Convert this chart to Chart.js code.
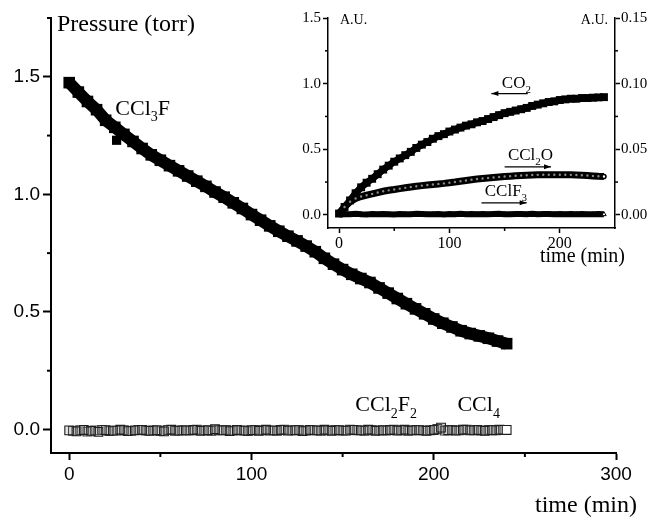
<!DOCTYPE html>
<html>
<head>
<meta charset="utf-8">
<script src="https://cdn.jsdelivr.net/npm/chart.js@4/dist/chart.umd.min.js"></script>
<style>
  html, body { margin: 0; padding: 0; background: #fff; }
  #wrap { position: relative; width: 654px; height: 517px; }
  #wrap canvas { position: absolute; left: 0; top: 0; }
</style>
</head>
<body>
<div id="wrap">
  <canvas id="main" width="654" height="517"></canvas>
  <canvas id="inset" width="654" height="517"></canvas>
</div>
<script>
// ---- sampling times (min) ----
const minutes = [0,5,10,15,20,25,30,35,40,45,50,55,60,65,70,75,80,85,90,95,
  100,105,110,115,120,125,130,135,140,145,150,155,160,165,170,175,180,185,190,195,
  200,205,210,215,220,225,230,235,240];

// ---- main panel: pressure (torr) ----
const ccl3f = [1.475,1.435,1.395,1.360,1.315,1.285,1.255,1.225,1.195,1.168,
  1.145,1.122,1.100,1.078,1.056,1.034,1.010,0.988,0.964,0.940,
  0.914,0.890,0.866,0.843,0.822,0.802,0.780,0.756,0.728,0.703,
  0.680,0.660,0.642,0.625,0.602,0.580,0.557,0.535,0.513,0.492,
  0.470,0.452,0.436,0.420,0.408,0.398,0.388,0.376,0.365];
// stray reading below the trace
const ccl3fStrayTime = [26];
const ccl3fStray = [1.23];

const ccl2f2Times = [0,4,8,12,16,20,24,28,32,36,40,44,48,52,56,60,64,68,72,76,
  80,84,88,92,96,100,104,108,112,116,120,124,128,132,136,140,144,148,152,156,
  160,164,168,172,176,180,184,188,192,196,200,204,208,212,216,220,224,228,232,236,240];
const ccl2f2 = [-0.004,-0.008,-0.002,-0.006,-0.010,-0.003,-0.005,-0.001,-0.007,-0.004,
  -0.002,-0.006,-0.003,-0.008,-0.001,-0.005,-0.004,-0.002,-0.006,-0.003,
  0.001,-0.004,-0.007,-0.002,-0.005,-0.003,-0.006,-0.001,-0.004,-0.002,
  -0.005,-0.003,-0.007,-0.002,-0.004,-0.001,-0.006,-0.003,-0.005,-0.002,
  -0.004,-0.001,-0.006,-0.003,-0.002,-0.005,-0.001,-0.004,-0.003,-0.006,
  -0.002,0.008,-0.003,-0.005,-0.001,-0.004,-0.002,-0.006,-0.003,-0.001,-0.002];

const ccl4Times = [2,6,10,14,18,22,26,30,34,38,42,46,50,54,58,62,66,70,74,78,
  82,86,90,94,98,102,106,110,114,118,122,126,130,134,138,142,146,150,154,158,
  162,166,170,174,178,182,186,190,194,198,202,206,210,214,218,222,226,230,234,238];
const ccl4 = [-0.006,-0.003,-0.009,-0.004,-0.002,-0.007,-0.005,-0.003,-0.006,-0.002,
  -0.005,-0.004,-0.007,-0.002,-0.006,-0.003,-0.005,-0.001,-0.004,-0.006,
  -0.003,-0.002,-0.005,-0.004,-0.007,-0.002,-0.003,-0.005,-0.006,-0.001,
  -0.004,-0.002,-0.005,-0.003,-0.006,-0.004,-0.002,-0.005,-0.001,-0.003,
  -0.006,-0.002,-0.004,-0.005,-0.001,-0.003,-0.006,-0.002,-0.004,-0.003,
  0.002,-0.005,-0.002,-0.004,-0.001,-0.003,-0.005,-0.002,-0.004,-0.002];

// ---- inset: products (A.U.) ----
const co2 = [0.010,0.060,0.110,0.165,0.210,0.245,0.275,0.310,0.345,0.375,
  0.405,0.430,0.455,0.480,0.510,0.535,0.555,0.580,0.600,0.615,
  0.635,0.650,0.665,0.680,0.690,0.705,0.715,0.730,0.745,0.760,
  0.775,0.785,0.795,0.805,0.815,0.830,0.840,0.850,0.860,0.865,
  0.875,0.880,0.885,0.885,0.890,0.890,0.893,0.895,0.897];
const ccl2o = [0.0010,0.0060,0.0100,0.0125,0.0140,0.0150,0.0160,0.0170,0.0180,0.0187,
  0.0193,0.0200,0.0206,0.0212,0.0218,0.0223,0.0228,0.0232,0.0236,0.0240,
  0.0245,0.0250,0.0256,0.0262,0.0268,0.0273,0.0277,0.0281,0.0285,0.0289,
  0.0292,0.0295,0.0298,0.0300,0.0302,0.0304,0.0305,0.0306,0.0306,0.0306,
  0.0306,0.0306,0.0305,0.0304,0.0302,0.0300,0.0297,0.0294,0.0292];
const cclf3 = [0.0002,0.0006,0.0004,0.0008,0.0005,0.0003,0.0007,0.0004,0.0006,0.0005,
  0.0003,0.0007,0.0005,0.0004,0.0008,0.0006,0.0004,0.0005,0.0007,0.0003,
  0.0006,0.0005,0.0008,0.0004,0.0006,0.0005,0.0007,0.0004,0.0006,0.0008,
  0.0005,0.0004,0.0007,0.0006,0.0005,0.0008,0.0004,0.0006,0.0007,0.0005,
  0.0006,0.0004,0.0007,0.0005,0.0006,0.0004,0.0005,0.0006,0.0004];

// ---- ticks ----
const mainXTicks = [0, 100, 200, 300];
const mainXMinor = [50, 150, 250];
const mainYTicks = [0, 0.5, 1.0, 1.5];
const mainYMinor = [0.25, 0.75, 1.25, 1.75];
const insetXTicks = [0, 100, 200];
const insetXMinor = [50, 150];
const insetLeftTicks = [0, 0.5, 1.0, 1.5];
const insetLeftMinor = [0.25, 0.75, 1.25];
const insetRightTicks = [0, 0.05, 0.10, 0.15];
const insetRightMinor = [0.025, 0.075, 0.125];

const SERIF = '"Liberation Serif", "Times New Roman", Times, serif';
const SANS = '"Liberation Sans", Arial, Helvetica, sans-serif';

const pts = (xs, ys) => xs.map((x, i) => ({ x: x, y: ys[i] }));
// the final reading of a trace is drawn as an open marker
const lastOpen = (n, open, solid) => ctx => (ctx.dataIndex === n - 1 ? open : solid);

// Decorations: minor ticks, free text, chemical labels with subscripts, arrows
const decor = {
  id: 'decor',
  afterDraw(chart, args, opts) {
    const ctx = chart.ctx;
    const ca = chart.chartArea;
    ctx.save();
    ctx.strokeStyle = '#000';
    (opts.minor || []).forEach(m => {
      const sc = chart.scales[m.scale];
      ctx.lineWidth = m.width;
      m.values.forEach(v => {
        const p = sc.getPixelForValue(v);
        ctx.beginPath();
        if (sc.isHorizontal()) {
          ctx.moveTo(p, ca.bottom); ctx.lineTo(p, ca.bottom + m.len);
        } else if (sc.position === 'left') {
          ctx.moveTo(ca.left, p); ctx.lineTo(ca.left - m.len, p);
        } else {
          ctx.moveTo(ca.right, p); ctx.lineTo(ca.right + m.len, p);
        }
        ctx.stroke();
      });
    });
    ctx.fillStyle = '#000';
    ctx.textBaseline = 'alphabetic';
    (opts.texts || []).forEach(t => {
      ctx.font = t.size + 'px ' + SERIF;
      ctx.textAlign = t.align || 'left';
      ctx.fillText(t.text, t.x, t.y);
    });
    ctx.textAlign = 'left';
    (opts.chem || []).forEach(c => {
      let x = chart.scales.x.getPixelForValue(c.t);
      const y = chart.scales[c.scale].getPixelForValue(c.v);
      c.parts.forEach(([s, sub]) => {
        const size = sub ? Math.round(c.size * 0.62) : c.size;
        ctx.font = size + 'px ' + SERIF;
        ctx.fillText(s, x, sub ? y + c.size * 0.3 : y);
        x += ctx.measureText(s).width;
      });
    });
    (opts.arrows || []).forEach(a => {
      const x0 = chart.scales.x.getPixelForValue(a.from);
      const x1 = chart.scales.x.getPixelForValue(a.to);
      const y = chart.scales[a.scale].getPixelForValue(a.v);
      const dir = Math.sign(x1 - x0);
      ctx.lineWidth = 1.2;
      ctx.beginPath(); ctx.moveTo(x0, y); ctx.lineTo(x1, y); ctx.stroke();
      ctx.beginPath();
      ctx.moveTo(x1, y);
      ctx.lineTo(x1 - dir * 7, y - 2.5);
      ctx.lineTo(x1 - dir * 7, y + 2.5);
      ctx.closePath(); ctx.fill();
    });
    ctx.restore();
  }
};

const axisCommon = (tickLen, tickW) => ({
  grid: { drawOnChartArea: false, drawTicks: true, tickLength: tickLen, tickWidth: tickW, color: '#000', tickColor: '#000' },
  border: { display: true, color: '#000', width: tickW }
});

// ---- main chart ----
new Chart(document.getElementById('main'), {
  type: 'line',
  data: {
    datasets: [
      {
        label: 'CCl2F2', data: pts(ccl2f2Times, ccl2f2), showLine: false,
        pointStyle: 'rect', pointRadius: 6.2, pointBorderColor: '#1e1e1e',
        pointBackgroundColor: lastOpen(ccl2f2.length, '#fff', 'rgba(120,120,120,0.18)'), pointBorderWidth: 1.1
      },
      {
        label: 'CCl4', data: pts(ccl4Times, ccl4), showLine: false,
        pointStyle: 'rect', pointRadius: 6.2, pointBorderColor: '#3c3c3c',
        pointBackgroundColor: 'rgba(120,120,120,0.18)', pointBorderWidth: 1.1
      },
      {
        label: 'CCl3F', data: pts(minutes, ccl3f), borderColor: '#000', borderWidth: 12,
        pointStyle: 'rect', pointRadius: 8.2, pointBackgroundColor: '#000', pointBorderWidth: 0, tension: 0
      },
      {
        label: 'CCl3F stray', data: pts(ccl3fStrayTime, ccl3fStray), showLine: false,
        pointStyle: 'rect', pointRadius: 6.5, pointBackgroundColor: '#000', pointBorderWidth: 0
      }
    ]
  },
  options: {
    responsive: false, animation: false, events: [],
    layout: { padding: { left: 0, right: 38, top: 18, bottom: 0 } },
    plugins: {
      legend: { display: false }, tooltip: { enabled: false },
      decor: {
        minor: [
          { scale: 'x', values: mainXMinor, len: 4, width: 2 },
          { scale: 'y', values: mainYMinor, len: 4, width: 2 }
        ],
        texts: [
          { text: 'Pressure (torr)', x: 57, y: 31, size: 24 },
          { text: 'time (min)', x: 535, y: 512, size: 24 }
        ],
        chem: [
          { t: 25.3, v: 1.339, scale: 'y', size: 22, parts: [['CCl', 0], ['3', 1], ['F', 0]] },
          { t: 157, v: 0.077, scale: 'y', size: 22, parts: [['CCl', 0], ['2', 1], ['F', 0], ['2', 1]] },
          { t: 213, v: 0.077, scale: 'y', size: 22, parts: [['CCl', 0], ['4', 1]] }
        ]
      }
    },
    scales: {
      x: Object.assign(axisCommon(7, 2), {
        type: 'linear', min: -10, max: 300,
        afterFit(s) { s.height = 64; },
        afterBuildTicks(s) { s.ticks = mainXTicks.map(v => ({ value: v })); },
        ticks: { color: '#000', font: { family: SANS, size: 19 }, padding: 3, maxRotation: 0, autoSkip: false,
          callback: v => String(v) }
      }),
      y: Object.assign(axisCommon(8, 2), {
        type: 'linear', min: -0.1, max: 1.75,
        afterFit(s) { s.width = 51; },
        afterBuildTicks(s) { s.ticks = mainYTicks.map(v => ({ value: v })); },
        ticks: { color: '#000', font: { family: SANS, size: 19 }, padding: 3, autoSkip: false,
          callback: v => v.toFixed(1) }
      })
    }
  },
  plugins: [decor]
});

// ---- inset chart ----
new Chart(document.getElementById('inset'), {
  type: 'line',
  data: {
    datasets: [
      {
        label: 'CClF3', data: pts(minutes, cclf3), yAxisID: 'y2', borderColor: '#000', borderWidth: 6,
        pointStyle: 'triangle', pointRadius: 2.6, pointBorderColor: '#000', pointBorderWidth: 1,
        pointBackgroundColor: lastOpen(cclf3.length, '#fff', '#000')
      },
      {
        label: 'CCl2O', data: pts(minutes, ccl2o), yAxisID: 'y2', borderColor: '#000', borderWidth: 7,
        pointStyle: 'circle', pointRadius: 2, pointBorderColor: '#000', pointBorderWidth: 1.6,
        pointBackgroundColor: lastOpen(ccl2o.length, '#fff', '#8a8a8a')
      },
      {
        label: 'CO2', data: pts(minutes, co2), yAxisID: 'y', borderColor: '#000', borderWidth: 7,
        pointStyle: 'rect', pointRadius: 5.6, pointBackgroundColor: '#000', pointBorderWidth: 0
      }
    ]
  },
  options: {
    responsive: false, animation: false, events: [],
    layout: { padding: { left: 280, right: 5, top: 18, bottom: 259 } },
    plugins: {
      legend: { display: false }, tooltip: { enabled: false },
      decor: {
        minor: [
          { scale: 'x', values: insetXMinor, len: 3, width: 1.5 },
          { scale: 'y', values: insetLeftMinor, len: 3, width: 1.5 },
          { scale: 'y2', values: insetRightMinor, len: 3, width: 1.5 }
        ],
        texts: [
          { text: 'A.U.', x: 340, y: 24, size: 14 },
          { text: 'A.U.', x: 608, y: 24, size: 14, align: 'right' },
          { text: 'time (min)', x: 540, y: 262, size: 20 }
        ],
        chem: [
          { t: 147.5, v: 0.97, scale: 'y', size: 17, parts: [['CO', 0], ['2', 1]] },
          { t: 153, v: 0.42, scale: 'y', size: 17, parts: [['CCl', 0], ['2', 1], ['O', 0]] },
          { t: 132, v: 0.145, scale: 'y', size: 17, parts: [['CClF', 0], ['3', 1]] }
        ],
        arrows: [
          { from: 171, to: 138, v: 0.924, scale: 'y' },
          { from: 150, to: 192, v: 0.366, scale: 'y' },
          { from: 129, to: 170, v: 0.092, scale: 'y' }
        ]
      }
    },
    scales: {
      x: Object.assign(axisCommon(5, 1.5), {
        type: 'linear', min: -10, max: 250,
        afterFit(s) { s.height = 30; },
        afterBuildTicks(s) { s.ticks = insetXTicks.map(v => ({ value: v })); },
        ticks: { color: '#000', font: { family: SERIF, size: 16 }, padding: 1, maxRotation: 0, autoSkip: false,
          callback: v => String(v) }
      }),
      y: Object.assign(axisCommon(5, 1.5), {
        type: 'linear', position: 'left', min: -0.1, max: 1.5,
        afterFit(s) { s.width = 48; },
        afterBuildTicks(s) { s.ticks = insetLeftTicks.map(v => ({ value: v })); },
        ticks: { color: '#000', font: { family: SERIF, size: 15 }, padding: 2, autoSkip: false,
          callback: v => v.toFixed(1) }
      }),
      y2: Object.assign(axisCommon(5, 1.5), {
        type: 'linear', position: 'right', min: -0.01, max: 0.15,
        afterFit(s) { s.width = 34; },
        afterBuildTicks(s) { s.ticks = insetRightTicks.map(v => ({ value: v })); },
        ticks: { color: '#000', font: { family: SERIF, size: 15 }, padding: 1, autoSkip: false,
          callback: v => v.toFixed(2) }
      })
    }
  },
  plugins: [decor]
});
</script>
</body>
</html>
